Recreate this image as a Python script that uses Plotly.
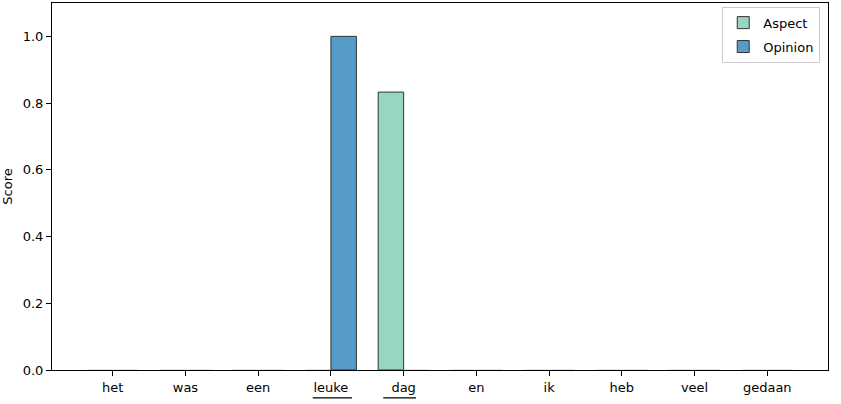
import plotly.graph_objects as go

words = ["het", "was", "een", "leuke", "dag", "en", "ik", "heb", "veel", "gedaan"]
aspect = [0, 0, 0, 0, 0.833, 0, 0, 0, 0, 0]
opinion = [0, 0, 0, 1.0, 0, 0, 0, 0, 0, 0]
underlined = ["leuke", "dag"]

xs = list(range(len(words)))
BW = 0.35
XMIN, XMAX = -0.835, len(words) - 1 + 0.835
ASPECT_C = "rgba(102,194,165,0.68)"
OPINION_C = "rgba(43,131,186,0.8)"


def edges(vals):
    return ["#333333" if v > 0 else "rgba(200,200,200,0.6)" for v in vals]


fig = go.Figure()
fig.add_trace(go.Bar(x=xs, y=aspect, name="Aspect", width=BW, offset=-BW, showlegend=False,
                     marker=dict(color=ASPECT_C, line=dict(color=edges(aspect), width=1))))
fig.add_trace(go.Bar(x=xs, y=opinion, name="Opinion", width=BW, offset=0, showlegend=False,
                     marker=dict(color=OPINION_C, line=dict(color=edges(opinion), width=1))))
# legend entries
fig.add_trace(go.Bar(x=[None], y=[None], name="Aspect", legendgroup="a",
                     marker=dict(color=ASPECT_C, line=dict(color="#333333", width=1))))
fig.add_trace(go.Bar(x=[None], y=[None], name="Opinion", legendgroup="o",
                     marker=dict(color=OPINION_C, line=dict(color="#333333", width=1))))

# underline spans (left/right extent relative to the word's tick)
ul_extent = {"leuke": (-0.25, 0.29), "dag": (-0.28, 0.17)}
for w in underlined:
    i = words.index(w)
    a, b = ul_extent[w]
    fig.add_shape(type="line", xref="paper", yref="paper",
                  x0=(i + a - XMIN) / (XMAX - XMIN), x1=(i + b - XMIN) / (XMAX - XMIN),
                  y0=-0.076, y1=-0.076, line=dict(color="black", width=1.2))

fig.update_layout(
    width=841, height=404,
    margin=dict(l=52, r=13, t=3, b=34, autoexpand=False),
    barmode="overlay",
    plot_bgcolor="white", paper_bgcolor="white",
    font=dict(family="DejaVu Sans", size=13, color="black"),
    showlegend=True,
    legend=dict(x=0.99, y=0.99, xanchor="right", yanchor="top",
                bordercolor="#cccccc", borderwidth=1, bgcolor="rgba(255,255,255,0.8)",
                font=dict(size=13), traceorder="grouped", tracegroupgap=4),
)
fig.update_xaxes(range=[XMIN, XMAX], tickvals=xs, ticktext=words, automargin=False,
                 showline=True, linecolor="black", linewidth=1, mirror=True,
                 ticks="outside", ticklen=5, tickcolor="black", showgrid=False,
                 zeroline=False, tickfont=dict(size=13))
fig.update_yaxes(range=[0, 1.1], tickvals=[0, 0.2, 0.4, 0.6, 0.8, 1.0],
                 ticktext=["0.0", "0.2", "0.4", "0.6", "0.8", "1.0"], automargin=False,
                 showline=True, linecolor="black", linewidth=1, mirror=True,
                 ticks="outside", ticklen=5, tickcolor="black", showgrid=False,
                 zeroline=False, tickfont=dict(size=13),
                 title=dict(text="Score", font=dict(size=13), standoff=8))

fig.write_html("out.html", config={"displayModeBar": False},
               post_script="document.body.style.margin='0px';")
